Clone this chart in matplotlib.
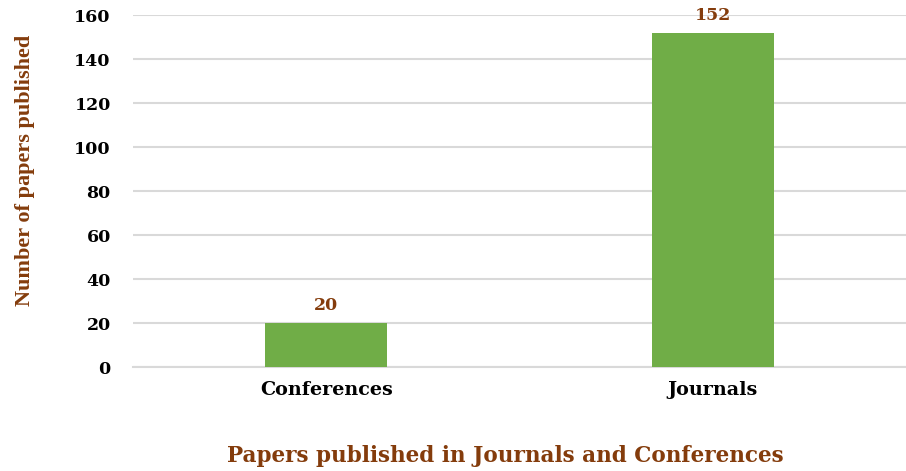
import matplotlib.pyplot as plt

# Paper counts by venue type
venues = ['Conferences', 'Journals']
papers = [20, 152]
yticks = [0, 20, 40, 60, 80, 100, 120, 140, 160]

brown = '#843C0C'
green = '#70AD47'

# wide bold serif for horizontal text
plt.rcParams['font.family'] = 'DejaVu Serif'
plt.rcParams['font.weight'] = 'bold'

fig = plt.figure(figsize=(9.06, 4.71), dpi=100)
ax = fig.add_axes([133 / 906, 1 - 367 / 471, 773 / 906, 352 / 471])

x = range(len(venues))
bars = ax.bar(x, papers, width=0.316, color=green, zorder=3)

for rect, val in zip(bars, papers):
    ax.text(rect.get_x() + rect.get_width() / 2, val + 4, str(val),
            ha='center', va='bottom', color=brown, fontsize=12.5, fontweight='bold')

ax.set_xlim(-0.5, 1.5)
ax.set_ylim(0, 160)
ax.set_yticks(yticks)
ax.set_xticks(list(x))
ax.set_xticklabels(venues)
ax.tick_params(axis='both', length=0, colors='black')
ax.tick_params(axis='y', pad=16, labelsize=12.5)
ax.tick_params(axis='x', pad=10, labelsize=13.8)

ax.grid(axis='y', color='#d9d9d9', linewidth=1.5, zorder=0)
ax.set_axisbelow(True)
for side in ['top', 'right', 'left']:
    ax.spines[side].set_visible(False)
ax.spines['bottom'].set_color('#d9d9d9')
ax.spines['bottom'].set_linewidth(1.5)

fig.text(25 / 906, 1 - 170 / 471, 'Number of papers published', rotation=90,
         ha='center', va='center', color=brown, fontsize=16, fontweight='bold',
         family='Liberation Serif')
fig.text(505 / 906, 1 - 456 / 471, 'Papers published in Journals and Conferences',
         ha='center', va='center', color=brown, fontsize=15.5, fontweight='bold')

fig.savefig('out.png', dpi=100)
